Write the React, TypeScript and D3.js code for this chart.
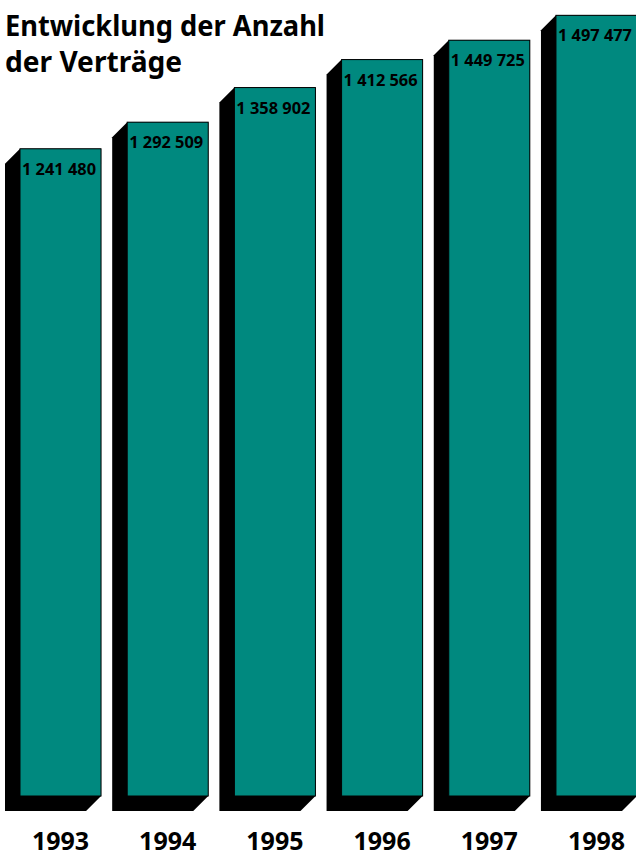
import React from "react";
import * as d3 from "d3";

const years = ["1993", "1994", "1995", "1996", "1997", "1998"];
const values = [1241480, 1292509, 1358902, 1412566, 1449725, 1497477];
const valueLabels = ["1 241 480", "1 292 509", "1 358 902", "1 412 566", "1 449 725", "1 497 477"];
const titleLines = ["Entwicklung der Anzahl", "der Verträge"];
const titleWidths = [320, 177];

const W = 636;
const H = 856;
const TEAL = "#00897f";
const DEPTH = 15;
const FONT = "'Noto Sans', 'Open Sans', sans-serif";

export default function App() {
  const x = d3.scaleBand<string>().domain(years).range([20, 637]).paddingInner(0.244).paddingOuter(0);
  const y = d3.scaleLinear().domain([0, 1500000]).range([796, 14]);
  const bw = x.bandwidth();

  return (
    <svg width={W} height={H} style={{ position: "absolute", left: 0, top: 0, background: "#fff" }}>
      {years.map((yr, i) => {
        const x0 = x(yr)!;
        const x1 = x0 + bw;
        const y0 = y(values[i]);
        const y1 = y(0);
        const pts = [
          [x0, y0],
          [x1, y0],
          [x1, y1],
          [x1 - DEPTH, y1 + DEPTH],
          [x0 - DEPTH, y1 + DEPTH],
          [x0 - DEPTH, y0 + DEPTH],
        ];
        return (
          <g key={yr}>
            <polygon points={pts.map((p) => p.join(",")).join(" ")} fill="#000" />
            <rect x={x0} y={y0} width={bw} height={y1 - y0} fill={TEAL} stroke="#000" strokeWidth={1} />
            <text
              x={x0 + 2}
              y={y0 + 26}
              fontFamily={FONT}
              fontWeight="bold"
              fontSize={16}
              textLength={74}
              lengthAdjust="spacingAndGlyphs"
              fill="#000"
            >
              {valueLabels[i]}
            </text>
            <text
              x={x0 + bw / 2}
              y={850}
              textAnchor="middle"
              fontFamily={FONT}
              fontWeight="bold"
              fontSize={25}
              fill="#000"
            >
              {yr}
            </text>
          </g>
        );
      })}
      {titleLines.map((t, i) => (
        <text
          key={i}
          x={5}
          y={36 + i * 36}
          fontFamily={FONT}
          fontWeight="bold"
          fontSize={28}
          textLength={titleWidths[i]}
          lengthAdjust="spacingAndGlyphs"
          fill="#000"
        >
          {t}
        </text>
      ))}
    </svg>
  );
}
